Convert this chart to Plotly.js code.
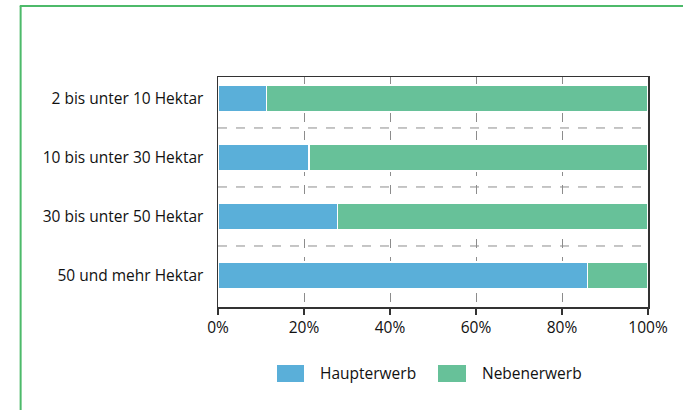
<!DOCTYPE html>
<html>
<head>
<meta charset="utf-8">
<script src="https://cdn.plot.ly/plotly-3.0.1.min.js"></script>
<style>html,body{margin:0;padding:0;background:#fff}#chart{width:683px;height:410px}</style>
</head>
<body>
<div id="chart"></div>
<script>
const categories = ["2 bis unter 10 Hektar", "10 bis unter 30 Hektar", "30 bis unter 50 Hektar", "50 und mehr Hektar"];
const haupterwerb = [11.3, 21.2, 27.8, 85.9];
const nebenerwerb = [88.7, 78.8, 72.2, 14.1];
const seriesNames = ["Haupterwerb", "Nebenerwerb"];
const xTickVals = [0, 20, 40, 60, 80, 100];
const xTickText = ["0%", "20%", "40%", "60%", "80%", "100%"];

const FONT = "Open Sans, Noto Sans, sans-serif";
const TXT = {family: FONT, size: 15.5, color: "#111111", weight: 400};
const colors = ["#5aafd9", "#67c199"];

const traces = [haupterwerb, nebenerwerb].map((vals, i) => ({
  type: "bar",
  orientation: "h",
  name: seriesNames[i],
  y: categories,
  x: vals,
  width: 0.46,
  showlegend: false,
  marker: {color: colors[i], line: {color: "#ffffff", width: 1.5}},
  hoverinfo: "x+y+name"
}));

// dashed separators between categories
const shapes = [];
for (let i = 0; i < categories.length - 1; i++) {
  shapes.push({type: "line", xref: "paper", yref: "y", x0: 0, x1: 1, y0: i + 0.5, y1: i + 0.5,
    line: {color: "#8c8c8c", width: 1, dash: "dash"}, layer: "below"});
}
// green frame lines of the figure
shapes.push({type: "line", xref: "paper", yref: "paper", x0: -0.459, x1: -0.459, y0: 1.309, y1: -0.5,
  line: {color: "#4dba6a", width: 2}});
shapes.push({type: "line", xref: "paper", yref: "paper", x0: -0.461, x1: 1.2, y0: 1.309, y1: 1.309,
  line: {color: "#4dba6a", width: 2}});

// legend (larger swatches as in the original)
const legendSwatchX = [[0.1372, 0.2], [0.5116, 0.5767]];
const legendTextX = [0.2326, 0.6093];
const annotations = [];
seriesNames.forEach((name, i) => {
  shapes.push({type: "rect", xref: "paper", yref: "paper",
    x0: legendSwatchX[i][0], x1: legendSwatchX[i][1], y0: -0.2522, y1: -0.3261,
    fillcolor: colors[i], line: {width: 0}});
  annotations.push({xref: "paper", yref: "paper", x: legendTextX[i], y: -0.2891,
    xanchor: "left", yanchor: "middle", text: name, showarrow: false, font: TXT});
});

const layout = {
  width: 683, height: 410,
  margin: {l: 218, r: 35, t: 77, b: 103, pad: 0},
  paper_bgcolor: "#ffffff", plot_bgcolor: "#ffffff",
  barmode: "stack",
  showlegend: false,
  font: TXT,
  xaxis: {
    range: [0, 100], tickvals: xTickVals, ticktext: xTickText,
    showgrid: true, gridcolor: "#8c8c8c", griddash: "dash", gridwidth: 1,
    showline: true, linecolor: "#333333", linewidth: 1.5, mirror: true,
    ticks: "outside", ticklen: 6, tickwidth: 1.5, tickcolor: "#333333",
    zeroline: false, fixedrange: true,
    tickfont: TXT
  },
  yaxis: {
    type: "category", categoryorder: "array", categoryarray: categories,
    range: [3.534, -0.364],
    showgrid: false, zeroline: false,
    showline: true, linecolor: "#333333", linewidth: 1.5, mirror: true,
    ticks: "", ticklabelstandoff: 10,
    tickfont: TXT
  },
  shapes: shapes,
  annotations: annotations
};

Plotly.newPlot("chart", traces, layout, {displayModeBar: false, staticPlot: true});
</script>
</body>
</html>
